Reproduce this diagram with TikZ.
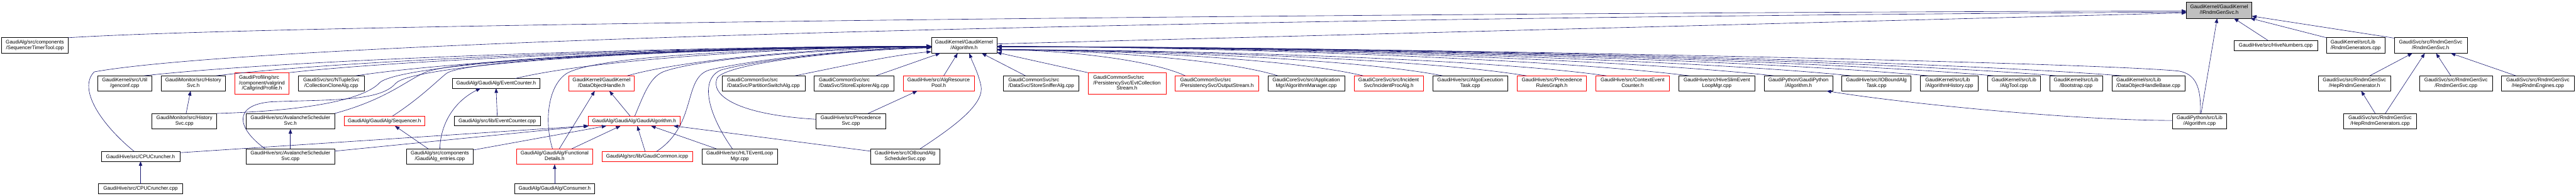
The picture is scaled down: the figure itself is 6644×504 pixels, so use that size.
\documentclass[tikz,border=0pt]{standalone}
\usepackage{fontspec}
\setmainfont{Liberation Sans}
\usetikzlibrary{arrows.meta,calc}
\definecolor{edgeblue}{HTML}{191970}
\definecolor{redborder}{HTML}{FF0000}
\definecolor{grayfill}{HTML}{BFBFBF}
\newcommand\lbl[2]{\begin{tabular}{@{}l@{}}#1\\\multicolumn{1}{@{}c@{}}{#2}\end{tabular}}
\newcommand\bx[7][]{\node[nbox,#1,minimum width={(#5-#3)*1pt},minimum height={(#6-#4)*1pt}] (#2) at ({(#3+#5)/2},{(#4+#6)/2}) {#7};}
\begin{document}
\begin{tikzpicture}[x=1pt,y=-1pt,
  nbox/.style={draw=black,line width=1pt,fill=white,inner sep=0pt,outer sep=0pt,font=\fontsize{13.1}{14.3}\selectfont,text=black},
  redbox/.style={draw=redborder},
  graybox/.style={fill=grayfill},
  dep/.style={draw=edgeblue,line width=1pt,-{Triangle[length=12pt,width=9pt]}}]
\useasboundingbox (0,0) rectangle (6644,504);
% rank 0-1
\bx[graybox]{irndm}{5639}{6}{5808}{47}{\lbl{GaudiKernel/GaudiKernel}{/IRndmGenSvc.h}}
\bx{seqtt}{4}{97}{176}{137}{\lbl{GaudiAlg/src/components}{/SequencerTimerTool.cpp}}
\bx{algh}{2402}{97}{2571}{137}{\lbl{GaudiKernel/GaudiKernel}{/Algorithm.h}}
\bx{hivenum}{5762}{104}{5977}{130}{GaudiHive/src/HiveNumbers.cpp}
\bx{rndmgens}{6000}{97}{6151}{137}{\lbl{GaudiKernel/src/Lib}{/RndmGenerators.cpp}}
\bx{rgsh}{6175}{97}{6363}{137}{\lbl{GaudiSvc/src/RndmGenSvc}{/RndmGenSvc.h}}
% rank 2
\bx{genconf}{252}{195}{391}{234}{\lbl{GaudiKernel/src/Util}{/genconf.cpp}}
\bx{histh}{415}{195}{582}{234}{\lbl{GaudiMonitor/src/History}{Svc.h}}
\bx[redbox]{callgrind}{606}{187}{745}{242}{\lbl{GaudiProfiling/src\\/component/valgrind}{/CallgrindProfile.h}}
\bx{collclone}{769}{195}{940}{234}{\lbl{GaudiSvc/src/NTupleSvc}{/CollectionCloneAlg.cpp}}
\bx{evch}{1166}{202}{1393}{227}{GaudiAlg/GaudiAlg/EventCounter.h}
\bx[redbox]{doh}{1467}{195}{1636}{234}{\lbl{GaudiKernel/GaudiKernel}{/DataObjectHandle.h}}
\bx{partsw}{1862}{195}{2076}{234}{\lbl{GaudiCommonSvc/src}{/DataSvc/PartitionSwitchAlg.cpp}}
\bx{storeexp}{2100}{195}{2305}{234}{\lbl{GaudiCommonSvc/src}{/DataSvc/StoreExplorerAlg.cpp}}
\bx[redbox]{algrp}{2329}{195}{2513}{234}{\lbl{GaudiHive/src/AlgResource}{Pool.h}}
\bx{storesniff}{2588}{195}{2783}{234}{\lbl{GaudiCommonSvc/src}{/DataSvc/StoreSnifferAlg.cpp}}
\bx[redbox]{evtcoll}{2806}{187}{3007}{242}{\lbl{GaudiCommonSvc/src\\/PersistencySvc/EvtCollection}{Stream.h}}
\bx[redbox]{outstream}{3031}{195}{3246}{234}{\lbl{GaudiCommonSvc/src}{/PersistencySvc/OutputStream.h}}
\bx{algmgr}{3270}{195}{3468}{234}{\lbl{GaudiCoreSvc/src/Application}{Mgr/AlgorithmManager.cpp}}
\bx[redbox]{incproc}{3492}{195}{3671}{234}{\lbl{GaudiCoreSvc/src/Incident}{Svc/IncidentProcAlg.h}}
\bx{algoexec}{3695}{195}{3889}{234}{\lbl{GaudiHive/src/AlgoExecution}{Task.cpp}}
\bx[redbox]{precrules}{3913}{195}{4092}{234}{\lbl{GaudiHive/src/Precedence}{RulesGraph.h}}
\bx[redbox]{ctxevc}{4116}{195}{4305}{234}{\lbl{GaudiHive/src/ContextEvent}{Counter.h}}
\bx{hiveslim}{4330}{195}{4526}{234}{\lbl{GaudiHive/src/HiveSlimEvent}{LoopMgr.cpp}}
\bx{gpalgh}{4550}{195}{4727}{234}{\lbl{GaudiPython/GaudiPython}{/Algorithm.h}}
\bx{iobtask}{4750}{195}{4929}{234}{\lbl{GaudiHive/src/IOBoundAlg}{Task.cpp}}
\bx{alghist}{4953}{195}{5102}{234}{\lbl{GaudiKernel/src/Lib}{/AlgorithmHistory.cpp}}
\bx{algtool}{5126}{195}{5263}{234}{\lbl{GaudiKernel/src/Lib}{/AlgTool.cpp}}
\bx{bootstrap}{5286}{195}{5423}{234}{\lbl{GaudiKernel/src/Lib}{/Bootstrap.cpp}}
\bx{dohbase}{5447}{195}{5635}{234}{\lbl{GaudiKernel/src/Lib}{/DataObjectHandleBase.cpp}}
\bx{heprgh}{5979}{195}{6166}{234}{\lbl{GaudiSvc/src/RndmGenSvc}{/HepRndmGenerator.h}}
\bx{rgscpp}{6241}{195}{6428}{234}{\lbl{GaudiSvc/src/RndmGenSvc}{/RndmGenSvc.cpp}}
\bx{hepeng}{6452}{195}{6639}{234}{\lbl{GaudiSvc/src/RndmGenSvc}{/HepRndmEngines.cpp}}
% rank 3
\bx{histcpp}{392}{292}{559}{332}{\lbl{GaudiMonitor/src/History}{Svc.cpp}}
\bx{avh}{635}{292}{863}{332}{\lbl{GaudiHive/src/AvalancheScheduler}{Svc.h}}
\bx[redbox]{seqh}{887}{299}{1096}{324}{GaudiAlg/GaudiAlg/Sequencer.h}
\bx{evccpp}{1171}{299}{1394}{324}{GaudiAlg/src/lib/EventCounter.cpp}
\bx[redbox]{gah}{1517}{299}{1754}{324}{GaudiAlg/GaudiAlg/GaudiAlgorithm.h}
\bx{precsvc}{2105}{292}{2284}{332}{\lbl{GaudiHive/src/Precedence}{Svc.cpp}}
\bx{gpalgcpp}{5603}{292}{5743}{332}{\lbl{GaudiPython/src/Lib}{/Algorithm.cpp}}
\bx{heprgcpp}{6045}{292}{6232}{332}{\lbl{GaudiSvc/src/RndmGenSvc}{/HepRndmGenerators.cpp}}
% rank 4
\bx{cpuh}{261}{390}{464}{415}{GaudiHive/src/CPUCruncher.h}
\bx{avcpp}{635}{383}{863}{423}{\lbl{GaudiHive/src/AvalancheScheduler}{Svc.cpp}}
\bx{galgent}{1048}{383}{1221}{423}{\lbl{GaudiAlg/src/components}{/GaudiAlg\_entries.cpp}}
\bx[redbox]{funcdet}{1332}{383}{1529}{423}{\lbl{GaudiAlg/GaudiAlg/Functional}{Details.h}}
\bx[redbox]{gcicpp}{1552}{390}{1786}{415}{GaudiAlg/src/lib/GaudiCommon.icpp}
\bx{hltelm}{1810}{383}{2006}{423}{\lbl{GaudiHive/src/HLTEventLoop}{Mgr.cpp}}
\bx{iobsched}{2245}{383}{2424}{423}{\lbl{GaudiHive/src/IOBoundAlg}{SchedulerSvc.cpp}}
% rank 5
\bx{cpucpp}{254}{473}{471}{498}{GaudiHive/src/CPUCruncher.cpp}
\bx{consumer}{1327}{473}{1534}{498}{GaudiAlg/GaudiAlg/Consumer.h}

% ---- edges into IRndmGenSvc.h
\draw[dep] (seqtt.north east) .. controls (800,58) and (4000,31) .. ($(irndm.west)+(0,2)$);
\draw[dep] ($(cpuh.north)+(-16,0)$) .. controls (260,320) and (200,228) .. (243,185) .. controls (600,120) and (2500,50) .. ($(irndm.west)+(0,4.5)$);
\draw[dep] ($(algh.east)+(0,-4)$) -- ($(irndm.west)+(0,6.5)$);
\draw[dep] ($(gpalgcpp.north)+(4,0)$) -- ($(irndm.south)+(-5,0)$);
\draw[dep] ($(hivenum.north)+(-20,0)$) -- ($(irndm.south)+(38,0)$);
\draw[dep] (rndmgens.north west) -- ($(irndm.south east)+(-4,0)$);
\draw[dep] ($(rgsh.north west)+(0,1)$) -- ($(irndm.east)+(0,15)$);

% ---- edges into Algorithm.h from the left
\draw[dep] ($(genconf.north)+(49.5,0)$) .. controls (777,150) and (1793,119) .. ($(algh.west)+(0,2)$);
\draw[dep] ($(histh.north east)+(-25,0)$) .. controls (926,150) and (1849,119) .. ($(algh.west)+(0,2)$);
\draw[dep] (histcpp.north east) .. controls (800,285) and (940,255) .. (979,213) .. controls (1030,165) and (1650,122) .. ($(algh.west)+(0,2)$);
\draw[dep] (callgrind.north east) .. controls (1076,150) and (1905,119) .. ($(algh.west)+(0,2)$);
\draw[dep] ($(collclone.north)+(63,0)$) .. controls (1214,150) and (1957,119) .. ($(algh.west)+(0,2)$);
\draw[dep] (avh.north east) .. controls (1000,255) and (1050,205) .. (1100,185) .. controls (1180,155) and (1700,123) .. ($(algh.west)+(0,3)$);
\draw[dep] ($(avcpp.north)+(-65,0)$) .. controls (610,330) and (600,270) .. (700,262) .. controls (850,256) and (980,262) .. (1020,215) .. controls (1060,170) and (1600,126) .. ($(algh.west)+(0,3)$);
\draw[dep] ($(seqh.north)+(20.5,0)$) .. controls (1080,255) and (1120,215) .. (1150,190) .. controls (1190,155) and (1750,125) .. ($(algh.west)+(0,3)$);
\draw[dep] ($(evch.north)+(49.5,0)$) .. controls (1544,150) and (2080,120) .. ($(algh.west)+(0,3)$);
\draw[dep] ($(doh.north east)+(-18,0)$) .. controls (1775,150) and (2167,120) .. ($(algh.west)+(0,3)$);
\draw[dep] ($(funcdet.north)+(-5.5,0)$) .. controls (1405,320) and (1410,225) .. (1460,190) .. controls (1530,145) and (1950,124) .. ($(algh.west)+(0,4)$);
\draw[dep] ($(gah.north)+(1.5,0)$) .. controls (1660,245) and (1675,200) .. (1710,185) .. controls (1800,150) and (2150,125) .. ($(algh.west)+(0,4)$);
\draw[dep] ($(gcicpp.north)+(24,0)$) .. controls (1800,320) and (1760,200) .. (1830,180) .. controls (1950,152) and (2200,126) .. ($(algh.west)+(0,5)$);
\draw[dep] ($(hltelm.north)+(-19,0)$) .. controls (1830,300) and (1800,205) .. (1860,180) .. controls (1950,155) and (2200,127) .. ($(algh.west)+(0,5)$);
\draw[dep] ($(precsvc.west)+(0,-5)$) .. controls (1900,295) and (1830,245) .. (1850,200) .. controls (1880,160) and (2200,128) .. ($(algh.west)+(0,6)$);
\draw[dep] ($(partsw.north)+(81,0)$) .. controls (2200,165) and (2300,142) .. ($(algh.west)+(0,16)$);
\draw[dep] ($(storeexp.north)+(56.5,0)$) -- ($(algh.south west)+(23,0)$);

% ---- edges into Algorithm.h from below
\draw[dep] ($(algrp.north)+(13,0)$) -- ($(algh.south west)+(68,0)$);
\draw[dep] ($(iobsched.north)+(38.5,0)$) .. controls (2470,320) and (2540,265) .. (2530,220) .. controls (2522,185) and (2508,160) .. ($(algh.south west)+(98,0)$);
\draw[dep] ($(storesniff.north)+(-40.5,0)$) -- ($(algh.south west)+(130,0)$);

% ---- edges into Algorithm.h from the right
\draw[dep] (evtcoll.north west) -- ($(algh.south east)+(0,-2)$);
\draw[dep] ($(outstream.north)+(-81.5,0)$) .. controls (2960,150) and (2717,128) .. ($(algh.east)+(0,11)$);
\draw[dep] ($(algmgr.north)+(-73,0)$) .. controls (3151,150) and (2789,128) .. ($(algh.east)+(0,11)$);
\draw[dep] ($(incproc.north)+(-65.5,0)$) .. controls (3327,150) and (2855,128) .. ($(algh.east)+(0,11)$);
\draw[dep] ($(algoexec.north)+(-71,0)$) .. controls (3491,150) and (2916,128) .. ($(algh.east)+(0,11)$);
\draw[dep] ($(precrules.north)+(-65.5,0)$) .. controls (3664,150) and (2981,128) .. ($(algh.east)+(0,11)$);
\draw[dep] ($(ctxevc.north)+(-67.5,0)$) .. controls (3829,150) and (3043,128) .. ($(algh.east)+(0,11)$);
\draw[dep] ($(hiveslim.north)+(-71,0)$) .. controls (4000,150) and (3107,120) .. ($(algh.east)+(0,3)$);
\draw[dep] ($(gpalgh.north)+(-63.5,0)$) .. controls (4174,150) and (3172,120) .. ($(algh.east)+(0,3)$);
\draw[dep] ($(iobtask.north)+(-64.5,0)$) .. controls (4334,150) and (3232,120) .. ($(algh.east)+(0,3)$);
\draw[dep] ($(alghist.north)+(-54.5,0)$) .. controls (4493,150) and (3292,120) .. ($(algh.east)+(0,3)$);
\draw[dep] ($(algtool.north)+(-51.5,0)$) .. controls (4629,150) and (3343,120) .. ($(algh.east)+(0,3)$);
\draw[dep] ($(bootstrap.north)+(-50.5,0)$) .. controls (4757,150) and (3391,120) .. ($(algh.east)+(0,3)$);
\draw[dep] ($(dohbase.north)+(-68,0)$) .. controls (4893,150) and (3442,120) .. ($(algh.east)+(0,3)$);
\draw[dep] ($(gpalgcpp.north)+(2,0)$) .. controls (5678,220) and (5660,190) .. (5620,183) .. controls (5400,160) and (3500,120) .. ($(algh.east)+(0,3)$);

% ---- other edges
\draw[dep] ($(histcpp.north)+(4.5,0)$) -- ($(histh.south)+(-7,0)$);
\draw[dep] (avcpp.north) -- (avh.south);
\draw[dep] ($(galgent.north)+(-30,0)$) -- ($(seqh.south)+(27,0)$);
\draw[dep] (galgent.north) .. controls (1136,320) and (1170,262) .. ($(evch.south)+(-40,0)$);
\draw[dep] ($(galgent.north east)+(0,3)$) -- ($(gah.south west)+(47,0)$);
\draw[dep] (evccpp.north) -- (evch.south);
\draw[dep] ($(cpuh.north east)+(0,3)$) -- (gah.south west);
\draw[dep] ($(avcpp.east)+(0,-14)$) -- ($(gah.south west)+(2,0)$);
\draw[dep] ($(funcdet.north)+(12,0)$) -- ($(doh.south)+(-17.5,0)$);
\draw[dep] ($(gah.north)+(-10,0)$) -- ($(doh.south)+(20,0)$);
\draw[dep] ($(funcdet.north)+(44,0)$) -- ($(gah.south)+(-35,0)$);
\draw[dep] ($(gcicpp.north)+(-5,0)$) -- ($(gah.south)+(8,0)$);
\draw[dep] ($(hltelm.north)+(-60,0)$) -- ($(gah.south east)+(-75,0)$);
\draw[dep] ($(iobsched.north west)+(0,6)$) -- ($(gah.south east)+(-17,0)$);
\draw[dep] (consumer.north) -- (funcdet.south);
\draw[dep] (cpucpp.north) -- (cpuh.south);
\draw[dep] ($(precsvc.north)+(44.5,0)$) -- ($(algrp.south)+(-55,0)$);
\draw[dep] ($(gpalgcpp.west)+(0,-2)$) .. controls (5350,310) and (4900,265) .. ($(gpalgh.south east)+(-16,0)$);
\draw[dep] ($(heprgcpp.north)+(-12.5,0)$) -- ($(heprgh.south)+(17.5,0)$);
\draw[dep] ($(heprgcpp.north)+(13.5,0)$) -- ($(rgsh.south)+(-15,0)$);
\draw[dep] ($(heprgh.north)+(39.5,0)$) -- ($(rgsh.south)+(-47,0)$);
\draw[dep] ($(rgscpp.north)+(-13.5,0)$) -- ($(rgsh.south)+(14,0)$);
\draw[dep] ($(hepeng.north)+(-56.5,0)$) -- ($(rgsh.south east)+(-42,0)$);
\end{tikzpicture}
\end{document}
